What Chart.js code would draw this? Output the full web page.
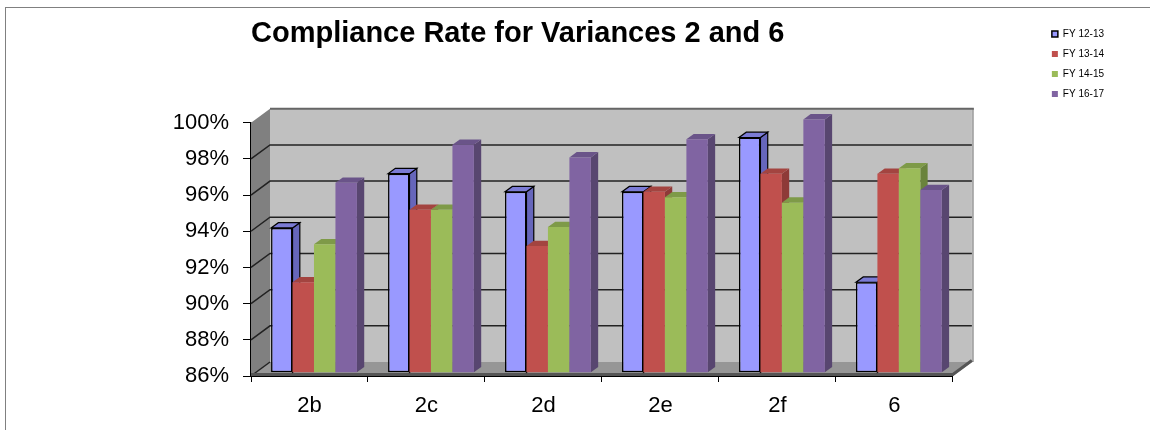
<!DOCTYPE html>
<html>
<head>
<meta charset="utf-8">
<script src="https://cdn.jsdelivr.net/npm/chart.js@4.4.1/dist/chart.umd.min.js"></script>
<style>
  html, body { margin: 0; padding: 0; background: #fff; }
  #wrap { position: relative; width: 1150px; height: 430px; }
  #frame { position: absolute; left: 5px; top: 7px; width: 1150px; height: 430px;
           border-left: 1px solid #808080; border-top: 1px solid #808080; box-sizing: border-box; }
  canvas { position: absolute; left: 0; top: 0; }
</style>
</head>
<body>
<div id="wrap">
  <div id="frame"></div>
  <canvas id="grafico" width="1150" height="430"></canvas>
</div>
<script>
const categorias = ['2b', '2c', '2d', '2e', '2f', '6'];
const fy1213 = [94, 97, 96, 96, 99, 91];
const fy1314 = [91, 95, 93, 96, 97, 97];
const fy1415 = [93.1, 95, 94.05, 95.7, 95.4, 97.3];
const fy1617 = [96.5, 98.6, 97.9, 98.9, 100, 96.1];
const ticksY = [86, 88, 90, 92, 94, 96, 98, 100];

// profundidade do efeito 3D
const DX = 19, DY = -14;      // parede do fundo
const BX = 4.5, BY = -3.3;    // deslocamento das barras
const PX = 7.3, PY = -5.3;    // espessura das barras

const faces = [
  { front: '#9999FF', side: '#6666BB', top: '#7B7BD5', borda: true },
  { front: '#C0504D', side: '#8E3A38', top: '#A34440', borda: false },
  { front: '#9BBB59', side: '#6A833C', top: '#7E9A48', borda: false },
  { front: '#8064A2', side: '#584670', top: '#6A5489', borda: false }
];

const tresD = {
  id: 'tresD',
  beforeDatasetsDraw(chart) {
    const ctx = chart.ctx;
    const a = chart.chartArea;
    const y = chart.scales.y;
    ctx.save();
    // chao
    ctx.fillStyle = '#969696';
    ctx.beginPath();
    ctx.moveTo(a.left, a.bottom);
    ctx.lineTo(a.right, a.bottom);
    ctx.lineTo(a.right + DX, a.bottom + DY);
    ctx.lineTo(a.left + DX, a.bottom + DY);
    ctx.closePath();
    ctx.fill();
    // parede lateral
    ctx.fillStyle = '#808080';
    ctx.beginPath();
    ctx.moveTo(a.left, a.top);
    ctx.lineTo(a.left + DX, a.top + DY);
    ctx.lineTo(a.left + DX, a.bottom + DY);
    ctx.lineTo(a.left, a.bottom);
    ctx.closePath();
    ctx.fill();
    // parede do fundo
    ctx.fillStyle = '#C0C0C0';
    ctx.fillRect(a.left + DX, a.top + DY, a.right - a.left, a.bottom - a.top);
    ctx.strokeStyle = '#A8A8A8';
    ctx.lineWidth = 2;
    ctx.beginPath();
    ctx.moveTo(a.right + DX + 1, a.top + DY);
    ctx.lineTo(a.right + DX + 1, a.bottom + DY);
    ctx.stroke();
    ctx.strokeStyle = '#666666';
    ctx.beginPath();
    ctx.moveTo(a.left + DX, a.top + DY);
    ctx.lineTo(a.right + DX + 2, a.top + DY);
    ctx.stroke();
    // linhas de grade
    ctx.strokeStyle = '#222';
    ctx.lineWidth = 1.5;
    ticksY.slice(1, -1).forEach(v => {
      const py = y.getPixelForValue(v);
      ctx.beginPath();
      ctx.moveTo(a.left, py);
      ctx.lineTo(a.left + DX, py + DY);
      ctx.lineTo(a.right + DX, py + DY);
      ctx.stroke();
    });
    ctx.beginPath();
    ctx.moveTo(a.left, a.bottom);
    ctx.lineTo(a.left + DX, a.bottom + DY);
    ctx.stroke();
    // borda da frente do chao
    ctx.strokeStyle = '#555';
    ctx.lineWidth = 3;
    ctx.beginPath();
    ctx.moveTo(a.left, a.bottom - 1.5);
    ctx.lineTo(a.right, a.bottom - 1.5);
    ctx.lineTo(a.right + DX, a.bottom + DY - 1.5);
    ctx.stroke();
    ctx.restore();
  },
  // o Chart.js desenha as series de tras para frente; aqui desenhamos na ordem certa
  beforeDatasetDraw() {
    return false;
  },
  afterDatasetsDraw(chart) {
    const ctx = chart.ctx;
    ctx.save();
    ctx.translate(BX, BY);
    chart.data.datasets.forEach((ds, i) => {
      const f = faces[i];
      chart.getDatasetMeta(i).data.forEach(bar => {
        const p = bar.getProps(['x', 'y', 'base', 'width'], true);
        const l = p.x - p.width / 2, r = p.x + p.width / 2;
        ctx.lineWidth = 1.2;
        ctx.strokeStyle = '#000';
        // lado
        ctx.fillStyle = f.side;
        ctx.beginPath();
        ctx.moveTo(r, p.y);
        ctx.lineTo(r + PX, p.y + PY);
        ctx.lineTo(r + PX, p.base + PY);
        ctx.lineTo(r, p.base);
        ctx.closePath();
        ctx.fill();
        if (f.borda) ctx.stroke();
        // topo
        ctx.fillStyle = f.top;
        ctx.beginPath();
        ctx.moveTo(l, p.y);
        ctx.lineTo(l + PX, p.y + PY);
        ctx.lineTo(r + PX, p.y + PY);
        ctx.lineTo(r, p.y);
        ctx.closePath();
        ctx.fill();
        if (f.borda) ctx.stroke();
        // frente
        bar.draw(ctx);
      });
    });
    ctx.restore();
  }
};

const serie = (label, data, i) => ({
  label: label,
  data: data,
  base: 86,
  backgroundColor: faces[i].front,
  borderColor: '#000',
  borderWidth: faces[i].borda ? 1.5 : 0,
  borderSkipped: false,
  categoryPercentage: 0.734,
  barPercentage: 1
});

const ctx = document.getElementById('grafico').getContext('2d');

const myChart = new Chart(ctx, {
  type: 'bar',
  data: {
    labels: categorias,
    datasets: [
      serie('FY 12-13', fy1213, 0),
      serie('FY 13-14', fy1314, 1),
      serie('FY 14-15', fy1415, 2),
      serie('FY 16-17', fy1617, 3)
    ]
  },
  plugins: [tresD],
  options: {
    responsive: false,
    animation: false,
    layout: { padding: { left: 0, top: 19, right: 36, bottom: 0 } },
    scales: {
      x: {
        afterFit: s => { s.height = 54; },
        grid: { offset: true, drawOnChartArea: false, tickLength: 6, color: '#000' },
        border: { display: true, color: '#000', width: 1 },
        ticks: { color: '#000', padding: 11, font: { family: 'Liberation Sans, Arial', size: 22 } }
      },
      y: {
        min: 86, max: 100,
        afterFit: s => { s.width = 251; },
        afterBuildTicks: s => { s.ticks = ticksY.map(v => ({ value: v })); },
        grid: { drawOnChartArea: false, tickLength: 8, color: '#000' },
        border: { display: true, color: '#000', width: 1.5 },
        ticks: {
          color: '#000', padding: 14,
          font: { family: 'Liberation Sans, Arial', size: 22 },
          callback: v => v + '%'
        }
      },
      gap: {
        position: 'right',
        display: true,
        afterFit: s => { s.width = 89; },
        grid: { display: false },
        border: { display: false },
        ticks: { display: false }
      }
    },
    plugins: {
      tooltip: { enabled: false },
      title: {
        display: true,
        fullSize: false,
        align: 'start',
        text: 'Compliance Rate for Variances 2 and 6',
        color: '#000',
        font: { family: 'Liberation Sans, Arial', size: 29, weight: 'bold', lineHeight: 1 },
        padding: { top: 0, bottom: 74.7 }
      },
      legend: {
        position: 'right',
        align: 'start',
        labels: {
          color: '#000',
          boxWidth: 6,
          boxHeight: 6,
          padding: 10,
          font: { family: 'Liberation Sans, Arial', size: 10 }
        }
      }
    }
  }
});
</script>
</body>
</html>
